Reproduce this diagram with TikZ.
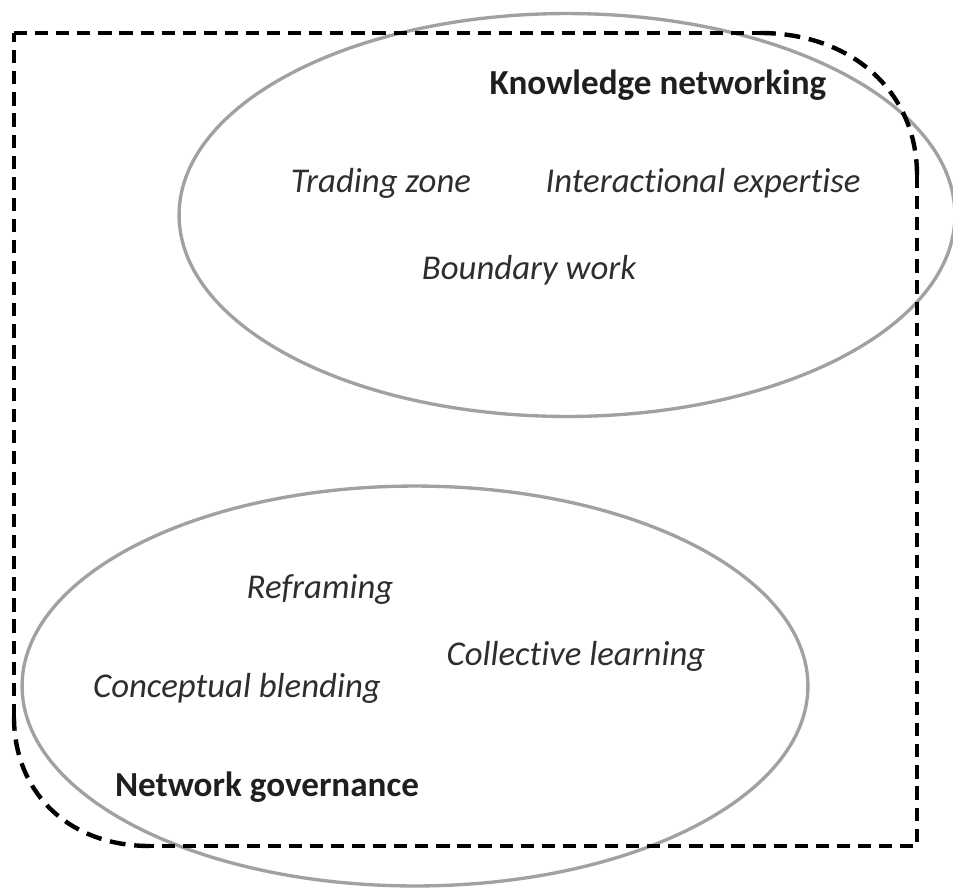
\documentclass[tikz,border=0pt]{standalone}
\usepackage{fontspec}
\setmainfont{Carlito}[Ligatures=NoCommon]
\usepackage{tikz}
\usetikzlibrary{shapes.geometric}
\tikzset{frame/.style = {draw=black, line width=1.9pt, dash pattern=on 7.5pt off 4.5pt}}

\begin{document}
\begin{tikzpicture}[x=0.02cm,y=-0.02cm,
    set/.style={ellipse,draw=black!37,line width=1.9pt,inner sep=0pt},
    title/.style={font=\fontsize{20}{24}\selectfont\bfseries,text=black!88},
    concept/.style={font=\fontsize{19.8}{24}\selectfont\itshape,text=black!82}]
    \useasboundingbox (0,0) rectangle (953,889);
    % the two sets
    \node[set,minimum width=15.52cm,minimum height=8.06cm] (kn) at (567,215) {};
    \node[set,minimum width=15.72cm,minimum height=8cm] (ng) at (415,686) {};
    % dashed frame
    \coordinate (tl) at (14,33);
    \coordinate (br) at (917,846);
    \draw[frame] (tl) -- (760,33);
    \draw[frame,line width=2.5pt,dash pattern=on 9pt off 5pt] (760,33) .. controls (852,33) and (917,92) .. (917,175);
    \draw[frame] (917,175) -- (br) -- (150,846);
    \draw[frame,line width=2.5pt,dash pattern=on 9pt off 5pt] (150,846) .. controls (68,846) and (14,792) .. (14,717);
    \draw[frame] (14,717) -- (tl);
    % labels
    \node[title] (knt) at (658,85) {Knowledge networking};
    \node[concept] (tz) at (381,183) {Trading zone};
    \node[concept] (ie) at (703,183) {Interactional expertise};
    \node[concept] (bw) at (529,270) {Boundary work};
    \node[concept] (rf) at (320,590) {Reframing};
    \node[concept] (cl) at (576,656) {Collective learning};
    \node[concept] (cb) at (237,688) {Conceptual blending};
    \node[title] (ngt) at (267,787) {Network governance};
\end{tikzpicture}
\end{document}
